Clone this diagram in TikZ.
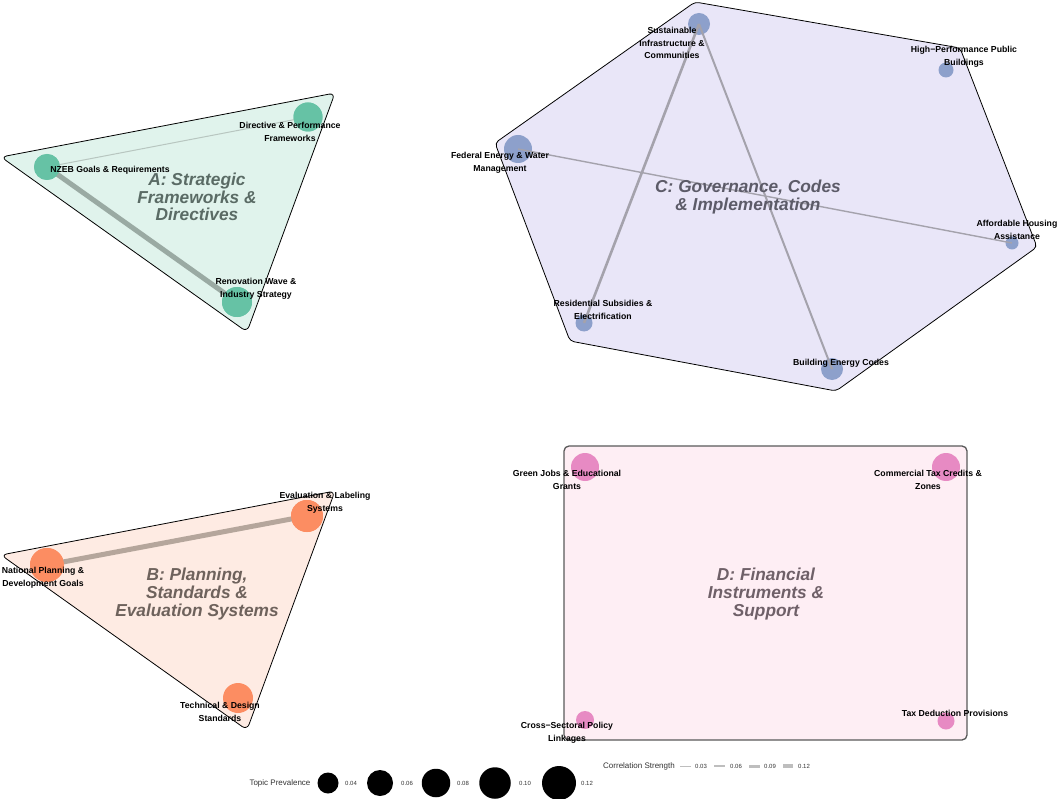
\documentclass[tikz,border=0pt]{standalone}
\usepackage{fontspec}
\setmainfont{Liberation Sans}
\definecolor{cA}{HTML}{66C2A5}
\definecolor{cB}{HTML}{FC8D62}
\definecolor{cC}{HTML}{8DA0CB}
\definecolor{cD}{HTML}{E78AC3}
\definecolor{fA}{HTML}{E0F3EC}
\definecolor{fB}{HTML}{FEEBE3}
\definecolor{fC}{HTML}{E9E6F8}
\definecolor{fD}{HTML}{FEEEF4}
\definecolor{tA}{HTML}{5A6B65}
\definecolor{tB}{HTML}{6E625C}
\definecolor{tC}{HTML}{5C5B68}
\definecolor{tD}{HTML}{6F6068}
\definecolor{eA}{HTML}{9AAAA3}
\definecolor{eAt}{HTML}{B8C6C0}
\definecolor{eB}{HTML}{B5A69C}
\definecolor{eC}{HTML}{A4A2AC}
\definecolor{legline}{HTML}{BEBEBE}
\begin{document}
\begin{tikzpicture}[x=1pt,y=-1pt,
  topic/.style={circle, inner sep=0pt, draw=none},
  lbl/.style={font=\bfseries\fontsize{8.7}{12.6}\selectfont, align=center, inner sep=0pt, text=black},
  ttl/.style={font=\bfseries\itshape\fontsize{17.3}{17.8}\selectfont, align=center, inner sep=0pt},
  hull/.style={draw=black, line width=0.8pt, rounded corners=6pt},
  leg/.style={font=\fontsize{8}{9}\selectfont, inner sep=0pt, text=black!80},
  legs/.style={font=\fontsize{6}{7}\selectfont, inner sep=0pt, text=black!80},
  lcirc/.style={circle, fill=black, inner sep=0pt}
]
\useasboundingbox (0,0) rectangle (1059,799);

% ---------- Cluster A ----------
\draw[hull, fill=fA] (335,93) -- (247,332) -- (1,157) -- cycle;
\node[topic, fill=cA, minimum size=26pt] (nzeb) at (47,167) {};
\node[topic, fill=cA, minimum size=29pt] (dir) at (308,117) {};
\node[topic, fill=cA, minimum size=30pt] (ren) at (237,302) {};
\draw[eA, line width=5pt] (nzeb.center) -- (ren.center);
\draw[eAt, line width=1pt] (nzeb.center) -- (dir.center);
\node[topic, fill=cA, minimum size=26pt] at (nzeb) {};
\node[topic, fill=cA, minimum size=29pt] at (dir) {};
\node[topic, fill=cA, minimum size=30pt] at (ren) {};
\node[ttl, text=tA] (ttlA) at (197,197) {A: Strategic\\Frameworks \&\\Directives};
\node[lbl] (lnzeb) at (110,170) {NZEB Goals \& Requirements};
\node[lbl] (ldir) at (290,132) {Directive \& Performance\\Frameworks};
\node[lbl] (lren) at (256,289) {Renovation Wave \&\\Industry Strategy};

% ---------- Cluster B ----------
\draw[hull, fill=fB] (335,491) -- (247,730) -- (1,555) -- cycle;
\node[topic, fill=cB, minimum size=34pt] (nat) at (47,565) {};
\node[topic, fill=cB, minimum size=32pt] (eval) at (307,516) {};
\node[topic, fill=cB, minimum size=30pt] (tech) at (238,698) {};
\draw[eB, line width=5pt] (nat.center) -- (eval.center);
\node[topic, fill=cB, minimum size=34pt] at (nat) {};
\node[topic, fill=cB, minimum size=32pt] at (eval) {};
\node[ttl, text=tB] (ttlB) at (197,594) {B: Planning,\\Standards \&\\Evaluation Systems};
\node[lbl] (lnat) at (43,578) {National Planning \&\\Development Goals};
\node[lbl] (leval) at (325,503) {Evaluation \& Labeling\\Systems};
\node[lbl] (ltech) at (220,712) {Technical \& Design\\Standards};

% ---------- Cluster C ----------
\draw[hull, rounded corners=4pt, fill=fC] (695,2) -- (960,48) -- (1037,247) -- (836,391) -- (570,341) -- (495,143) -- cycle;
\node[topic, fill=cC, minimum size=22pt] (sus) at (699,24) {};
\node[topic, fill=cC, minimum size=15pt] (hpb) at (946,70) {};
\node[topic, fill=cC, minimum size=28pt] (fed) at (518,149) {};
\node[topic, fill=cC, minimum size=13pt] (aff) at (1012,243) {};
\node[topic, fill=cC, minimum size=17pt] (res) at (584,323) {};
\node[topic, fill=cC, minimum size=22pt] (bec) at (832,369) {};
\draw[eC, line width=2.6pt] (sus.center) -- (res.center);
\draw[eC, line width=2pt] (sus.center) -- (bec.center);
\draw[eC, line width=1.4pt] (fed.center) -- (aff.center);
\node[ttl, text=tC] (ttlC) at (748,197) {C: Governance, Codes\\\& Implementation};
\node[lbl] (lsus) at (672,43) {Sustainable\\Infrastructure \&\\Communities};
\node[lbl] (lhpb) at (964,57) {High−Performance Public\\Buildings};
\node[lbl] (lfed) at (500,163) {Federal Energy \& Water\\Management};
\node[lbl] (laff) at (1017,230) {Affordable Housing\\Assistance};
\node[lbl] (lres) at (603,310) {Residential Subsidies \&\\Electrification};
\node[lbl] (lbec) at (841,363) {Building Energy Codes};

% ---------- Cluster D ----------
\draw[draw=black!65, line width=1.3pt, rounded corners=5pt, fill=fD] (564,446) rectangle (967,740);
\node[topic, fill=cD, minimum size=28pt] (gj) at (585,467) {};
\node[topic, fill=cD, minimum size=28pt] (ctc) at (946,467) {};
\node[topic, fill=cD, minimum size=18pt] (csp) at (585,720) {};
\node[topic, fill=cD, minimum size=17pt] (tdp) at (946,721) {};
\node[ttl, text=tD] (ttlD) at (766,594) {D: Financial\\Instruments \&\\Support};
\node[lbl] (lgj) at (567,480) {Green Jobs \& Educational\\Grants};
\node[lbl] (lctc) at (928,480) {Commercial Tax Credits \&\\Zones};
\node[lbl] (lcsp) at (567,733) {Cross−Sectoral Policy\\Linkages};
\node[lbl] (ltdp) at (955,713) {Tax Deduction Provisions};

% ---------- Legend ----------
\node[leg] (tp) at (280,783) {Topic Prevalence};
\node[lcirc, minimum size=21pt] (p1) at (328,783) {};
\node[legs] at (351,783) {0.04};
\node[lcirc, minimum size=26pt] (p2) at (380,783) {};
\node[legs] at (407,783) {0.06};
\node[lcirc, minimum size=28.5pt] (p3) at (436,783) {};
\node[legs] at (463,783) {0.08};
\node[lcirc, minimum size=31.5pt] (p4) at (495,783) {};
\node[legs] at (525,783) {0.10};
\node[lcirc, minimum size=34pt] (p5) at (559,783) {};
\node[legs] at (587,783) {0.12};

\node[leg] (cs) at (639,766) {Correlation Strength};
\draw[legline, line width=1pt] (680,766) -- (691,766);
\node[legs] at (701,766) {0.03};
\draw[legline, line width=2pt] (714,766) -- (725,766);
\node[legs] at (736,766) {0.06};
\draw[legline, line width=3pt] (749,766) -- (760,766);
\node[legs] at (770,766) {0.09};
\draw[legline, line width=4pt] (783,766) -- (793,766);
\node[legs] at (804,766) {0.12};
\end{tikzpicture}
\end{document}
